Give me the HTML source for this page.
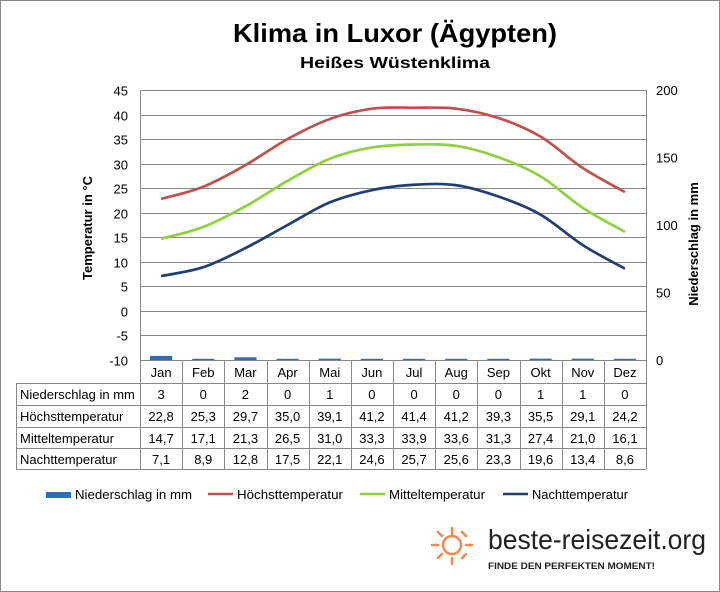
<!DOCTYPE html>
<html><head><meta charset="utf-8"><style>
body{margin:0;background:#fff;}
svg{display:block;font-family:"Liberation Sans",Arial,sans-serif;}
</style></head><body>
<svg id="s" width="720" height="592" viewBox="0 0 720 592" xmlns="http://www.w3.org/2000/svg">
<rect x="0.5" y="0.5" width="719" height="591" fill="#fff" stroke="#888"/>
<text x="233" y="42" font-size="26" font-weight="bold" textLength="324" lengthAdjust="spacingAndGlyphs">Klima in Luxor (Ägypten)</text>
<text x="300" y="68" font-size="16" font-weight="bold" textLength="190" lengthAdjust="spacingAndGlyphs">Heißes Wüstenklima</text>
<g id="grid" stroke="#888" stroke-width="1" fill="none"></g>
<g id="lab" font-size="13" fill="#000"></g>
<text transform="translate(92,228) rotate(-90)" text-anchor="middle" font-size="13" font-weight="bold">Temperatur in °C</text>
<text transform="translate(698,244) rotate(-90)" text-anchor="middle" font-size="13" font-weight="bold">Niederschlag in mm</text>
<g id="bars" fill="#2a6ebb"></g>
<g id="lines" fill="none" stroke-width="2.7"></g>
<g id="tab" font-size="13"></g>
<g font-size="13">
<rect x="46" y="492" width="25" height="6" fill="#2a6ebb"/>
<text x="75" y="499" textLength="117" lengthAdjust="spacingAndGlyphs">Niederschlag in mm</text>
<line x1="208" y1="494" x2="233" y2="494" stroke="#c0504d" stroke-width="2.5"/>
<text x="237" y="499" textLength="106" lengthAdjust="spacingAndGlyphs">Höchsttemperatur</text>
<line x1="360" y1="494" x2="385" y2="494" stroke="#8ed13d" stroke-width="2.5"/>
<text x="389" y="499" textLength="96" lengthAdjust="spacingAndGlyphs">Mitteltemperatur</text>
<line x1="503" y1="494" x2="528" y2="494" stroke="#1f3f73" stroke-width="2.5"/>
<text x="532" y="499" textLength="96" lengthAdjust="spacingAndGlyphs">Nachttemperatur</text>
</g>
<g stroke="#f08a4b" stroke-width="2.5" stroke-linecap="round" fill="none">
<circle cx="452" cy="545" r="9"/>
<line x1="432" y1="545" x2="438" y2="545"/><line x1="466" y1="545" x2="472" y2="545"/>
<line x1="452" y1="528" x2="452" y2="534"/><line x1="452" y1="558" x2="452" y2="564"/>
<line x1="438" y1="532" x2="442" y2="536"/><line x1="462" y1="532" x2="466" y2="536"/>
<line x1="438" y1="558" x2="442" y2="554"/><line x1="462" y1="558" x2="466" y2="554"/>
</g>
<text x="488" y="549" font-size="28" fill="#222" textLength="218" lengthAdjust="spacingAndGlyphs">beste-reisezeit.org</text>
<text x="488" y="569" font-size="9.5" font-weight="bold" fill="#222" textLength="167" lengthAdjust="spacingAndGlyphs">FINDE DEN PERFEKTEN MOMENT!</text>
</svg>
<script>
var NS="http://www.w3.org/2000/svg";
function el(p,t,a,txt){var e=document.createElementNS(NS,t);for(var k in a)e.setAttribute(k,a[k]);if(txt!=null)e.textContent=txt;document.getElementById(p).appendChild(e);}
var L=140,R=646,T=90,B=360,cw=(R-L)/12;
function Y(v){return B-(v+10)*(B-T)/55;}
for(var v=-10;v<=45;v+=5){var y=Math.round(Y(v))+0.5;el("grid","line",{x1:L,x2:R,y1:y,y2:y});
el("lab","text",{x:128,y:y+5,"text-anchor":"end"},v);}
for(var p=0;p<=200;p+=50){var y=B-p*(B-T)/200;el("lab","text",{x:656,y:y+5},p);}
el("grid","line",{x1:L+.5,x2:L+.5,y1:T,y2:B});el("grid","line",{x1:R+.5,x2:R+.5,y1:T,y2:B});
var m=["Jan","Feb","Mar","Apr","Mai","Jun","Jul","Aug","Sep","Okt","Nov","Dez"];
var pr=[3,0,2,0,1,0,0,0,0,1,1,0];
var hi=[22.8,25.3,29.7,35.0,39.1,41.2,41.4,41.2,39.3,35.5,29.1,24.2];
var mi=[14.7,17.1,21.3,26.5,31.0,33.3,33.9,33.6,31.3,27.4,21.0,16.1];
var lo=[7.1,8.9,12.8,17.5,22.1,24.6,25.7,25.6,23.3,19.6,13.4,8.6];
for(var i=0;i<12;i++){var h=Math.max(pr[i]*1.35,1.2);el("bars","rect",{x:L+i*cw+10,y:B-h,width:cw-20,height:h});}
function path(d,c){var pts=d.map(function(v,i){return [L+(i+.5)*cw,Y(v)];});var s="M"+pts[0];
for(var i=0;i<pts.length-1;i++){var p0=pts[i-1]||pts[i],p1=pts[i],p2=pts[i+1],p3=pts[i+2]||p2;
s+=" C"+(p1[0]+(p2[0]-p0[0])/6)+","+(p1[1]+(p2[1]-p0[1])/6)+" "+(p2[0]-(p3[0]-p1[0])/6)+","+(p2[1]-(p3[1]-p1[1])/6)+" "+p2;}
el("lines","path",{d:s,stroke:c});}
path(hi,"#c0504d");path(mi,"#8ed13d");path(lo,"#1f3f73");
var rows=[383,405,427,448,469];
el("tab","line",{x1:L+.5,x2:R,y1:B+.5,y2:B+.5,stroke:"#888"});
for(var r=0;r<rows.length;r++)el("tab","line",{x1:16,x2:R,y1:rows[r]+.5,y2:rows[r]+.5,stroke:"#888"});
el("tab","line",{x1:16.5,x2:16.5,y1:383,y2:469,stroke:"#888"});
for(var i=0;i<=12;i++){var x=Math.round(L+i*cw)+.5;el("tab","line",{x1:x,x2:x,y1:B,y2:469,stroke:"#888"});}
var names=["Niederschlag in mm","Höchsttemperatur","Mitteltemperatur","Nachttemperatur"];
var data=[pr,hi,mi,lo];
for(var i=0;i<12;i++)el("tab","text",{x:L+(i+.5)*cw,y:377,"text-anchor":"middle"},m[i]);
for(var r=0;r<4;r++){var ty=rows[r]+16;el("tab","text",{x:20,y:ty},names[r]);
for(var i=0;i<12;i++){var v=data[r][i];el("tab","text",{x:L+(i+.5)*cw,y:ty,"text-anchor":"middle"},r==0?v:v.toFixed(1).replace(".",","));}}
</script>
</body></html>
